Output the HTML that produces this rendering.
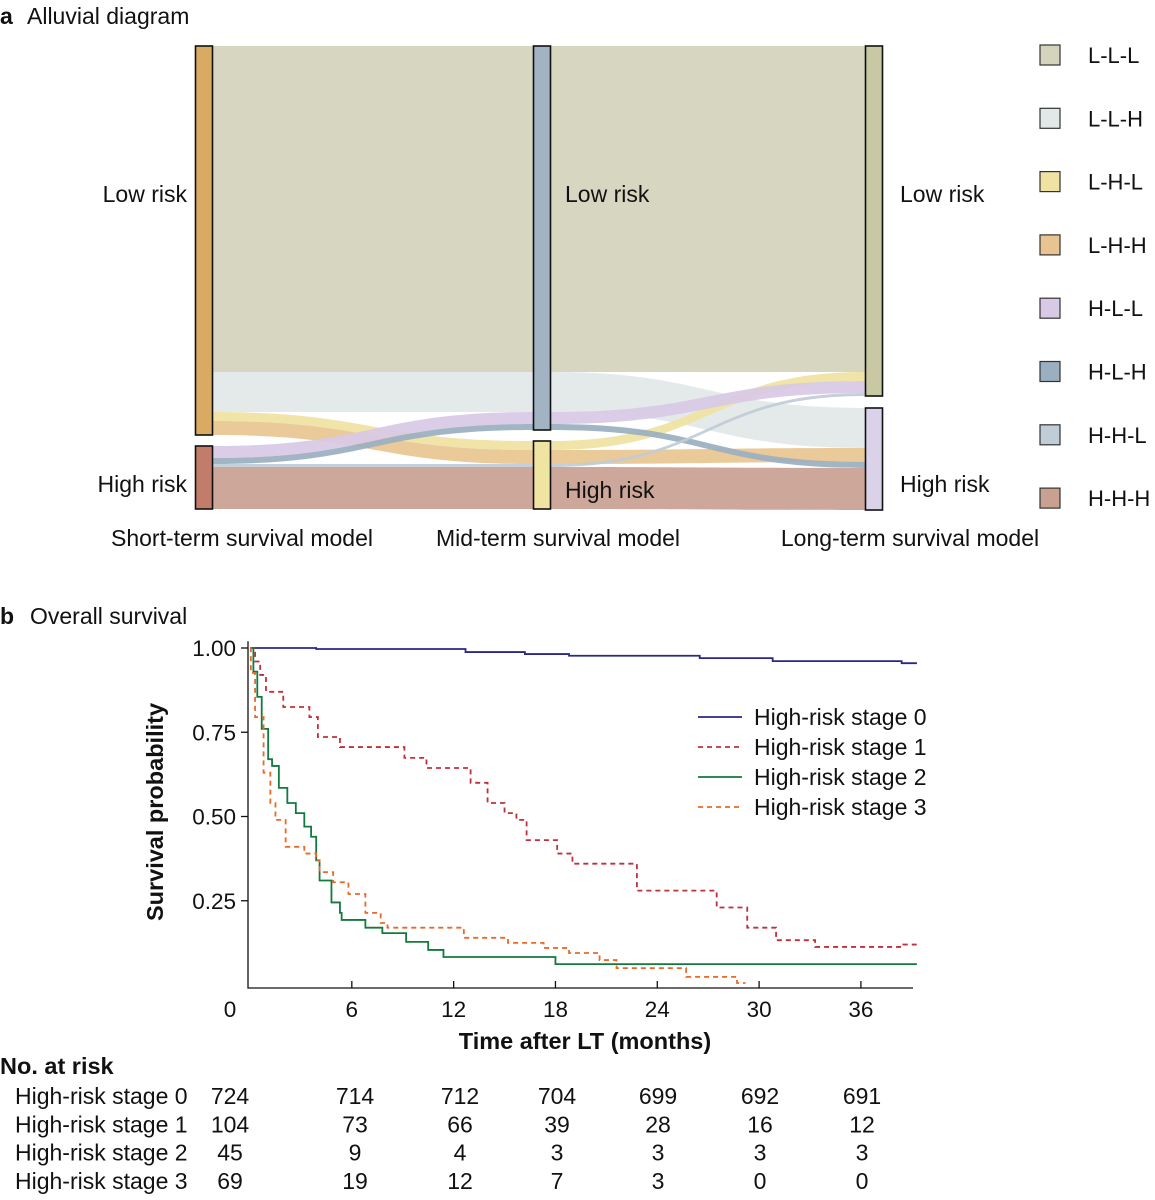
<!DOCTYPE html>
<html><head><meta charset="utf-8">
<style>
body{margin:0;background:#fff;font-family:"Liberation Sans",Arial,sans-serif;}
svg{display:block}
text{font-family:"Liberation Sans",Arial,sans-serif;fill:#111}
</style></head>
<body>
<svg id="fig" width="1155" height="1200" viewBox="0 0 1155 1200" xmlns="http://www.w3.org/2000/svg">
<text x="0" y="24" font-size="23" font-weight="bold">a</text>
<text x="27" y="24" font-size="23">Alluvial diagram</text>
<g id="alluvial"></g>
<g id="legendA"></g>
<text x="0" y="624" font-size="23" font-weight="bold">b</text>
<text x="30" y="624" font-size="23">Overall survival</text>
<g id="km"></g>
<g id="risk"></g>
</svg>
<script>
const NS="http://www.w3.org/2000/svg";
function mk(tag,attrs,parent,txt){const e=document.createElementNS(NS,tag);for(const k in attrs)e.setAttribute(k,attrs[k]);if(txt!==undefined)e.textContent=txt;parent.appendChild(e);return e;}

// ---- Alluvial data ----
const flowNames=["L-L-L","L-L-H","L-H-L","L-H-H","H-L-L","H-L-H","H-H-L","H-H-H"];
const flowSizes=[326,40,9,14,12,6,3,42];
const flowColors=["#d4d4bc","#e2e8e8","#f0e2a2","#e8c590","#d8c9e6","#9aafc0","#c0ccd6","#c9a191"];
const orderCol=[[0,1,2,3],[4,5,6,7]];
const orderMid=[[0,1,4,5],[2,3,6,7]];
const orderRight=[[0,2,4,6],[1,3,5,7]];
const colLabels=["Short-term survival model","Mid-term survival model","Long-term survival model"];
const barColors=[["#d8aa62","#c27d6a"],["#a2b4c4","#f0e4a2"],["#c8c8a2","#dad2e8"]];

(function(){
 const g=document.getElementById('alluvial');
 const top=46, gaps=[11,11,12];
 const xs=[195,533,865], bw=17;
 const orders=[orderCol,orderMid,orderRight];
 const pos=[];
 const bars=[];
 orders.forEach((ord,c)=>{
  let y=top; const p={}; const b=[];
  ord.forEach((grp,gi)=>{
   const y0=y;
   grp.forEach(f=>{p[f]=[y,y+flowSizes[f]];y+=flowSizes[f];});
   b.push([y0,y]); y+=gaps[c];
  });
  pos.push(p);bars.push(b);
 });
 for(let c=0;c<2;c++){
  const x0=xs[c]+bw+1, x1=xs[c+1], mx=(x0+x1)/2;
  flowSizes.forEach((s,f)=>{
   const a=pos[c][f], b=pos[c+1][f];
   const d=`M${x0},${a[0]} C${mx},${a[0]} ${mx},${b[0]} ${x1},${b[0]} L${x1},${b[1]} C${mx},${b[1]} ${mx},${a[1]} ${x0},${a[1]} Z`;
   const el=mk('path',{d:d,fill:flowColors[f],'fill-opacity':0.92},g);
   
   
  });
 }
 bars.forEach((b,c)=>{
  b.forEach((r,i)=>{
   const el=mk('rect',{x:xs[c]+0.5,y:r[0],width:bw,height:r[1]-r[0],fill:barColors[c][i],stroke:'#111','stroke-width':1.6},g);
   
   
  });
 });
 const lx=[[187,187],[565,565],[900,900]];
 const anchors=['end','start','start'];
 bars.forEach((b,c)=>{
  let t=mk('text',{x:lx[c][0],y:202,'font-size':23,'text-anchor':anchors[c]},g,'Low risk');
  
  t=mk('text',{x:lx[c][1],y:(c===1?498:492),'font-size':23,'text-anchor':anchors[c]},g,'High risk');
  
 });
 const cx=[242,558,910];
 colLabels.forEach((s,c)=>{
  const t=mk('text',{x:cx[c],y:546,'font-size':23,'text-anchor':'middle'},g,s);
  
 });
 const lg=document.getElementById('legendA');
 flowNames.forEach((n,i)=>{
  const y=45+i*63.3;
  const r=mk('rect',{x:1040,y:y,width:20,height:20,fill:flowColors[i],stroke:'#333','stroke-width':1.2},lg);
  
  const t=mk('text',{x:1088,y:y+18,'font-size':22},lg,n);
  
 });
})();

// ---- KM data ----
const seriesNames=["High-risk stage 0","High-risk stage 1","High-risk stage 2","High-risk stage 3"];
const s0Times=[3.9,12.7,16.2,18.8,26.5,30.8,38.4];
const s0Surv=[0.997,0.988,0.982,0.977,0.970,0.961,0.955];
const s1Times=[0.3,0.6,0.94,1.96,3.5,4.0,5.3,9.1,10.4,13.0,14.0,15.0,15.7,16.3,18.1,19.0,22.8,27.5,29.3,31.0,33.3,38.5];
const s1Surv=[0.96,0.92,0.87,0.825,0.795,0.736,0.706,0.674,0.644,0.60,0.54,0.51,0.49,0.43,0.39,0.36,0.28,0.23,0.17,0.133,0.113,0.12];
const s2Times=[0.2,0.43,0.69,1.07,1.3,1.7,2.2,2.7,3.2,3.6,3.9,4.1,4.8,5.3,5.4,6.8,7.8,9.2,10.5,11.4,18.0];
const s2Surv=[0.93,0.855,0.76,0.67,0.65,0.585,0.54,0.51,0.47,0.44,0.37,0.31,0.245,0.214,0.193,0.17,0.154,0.128,0.104,0.083,0.062];
const s3Times=[0.05,0.3,0.8,1.2,1.5,2.1,3.2,3.9,4.1,4.9,5.8,6.8,7.7,8.1,12.6,15.2,17.3,18.8,20.6,21.6,25.7,28.7];
const s3Surv=[0.926,0.795,0.63,0.54,0.49,0.41,0.39,0.37,0.335,0.305,0.27,0.214,0.184,0.17,0.14,0.125,0.11,0.095,0.074,0.05,0.024,0.006];
const endTimes=[39.3,39.3,39.3,29.2];
const xTicks=[0,6,12,18,24,30,36];
const yTicks=[0.25,0.5,0.75,1.0];
const yTickLabels=["0.25","0.50","0.75","1.00"];
const riskStage0=[724,714,712,704,699,692,691];
const riskStage1=[104,73,66,39,28,16,12];
const riskStage2=[45,9,4,3,3,3,3];
const riskStage3=[69,19,12,7,3,0,0];

(function(){
 const g=document.getElementById('km');
 const X=t=>250+t*16.97, Y=s=>985-s*337;
 const colors=["#27288a","#c0303a","#137a3e","#e8692a"];
 const dashes=["","5,4","","5,4"];
 let a=mk('path',{d:`M248,${Y(1.02)} L248,988 L913,988`,fill:'none',stroke:'#111','stroke-width':1.3},g);
 
 yTicks.forEach((v,i)=>{
  mk('line',{x1:241,x2:248,y1:Y(v),y2:Y(v),stroke:'#111','stroke-width':1.3},g);
  const t=mk('text',{x:236,y:Y(v)+8,'font-size':22.5,'text-anchor':'end'},g,yTickLabels[i]);
  
 });
 xTicks.forEach((v,i)=>{
  if(v>0) mk('line',{x1:X(v),x2:X(v),y1:981,y2:988,stroke:'#111','stroke-width':1.3},g);
  const t=mk('text',{x:(v===0?230:X(v)),y:1017,'font-size':22.5,'text-anchor':'middle'},g,String(v));
  
 });
 let t=mk('text',{x:585,y:1049,'font-size':23.5,'font-weight':'bold','text-anchor':'middle'},g,'Time after LT (months)');
 
 t=mk('text',{x:0,y:0,'font-size':23.5,'font-weight':'bold','text-anchor':'middle',transform:'translate(163,812) rotate(-90)'},g,'Survival probability');
 
 const T=[s0Times,s1Times,s2Times,s3Times], S=[s0Surv,s1Surv,s2Surv,s3Surv];
 T.forEach((ts,k)=>{
  let d=`M${X(0)},${Y(1)}`; let prev=1;
  ts.forEach((tt,i)=>{d+=` L${X(tt)},${Y(prev)} L${X(tt)},${Y(S[k][i])}`;prev=S[k][i];});
  d+=` L${X(endTimes[k])},${Y(prev)}`;
  const p=mk('path',{d:d,fill:'none',stroke:colors[k],'stroke-width':1.8,'stroke-dasharray':dashes[k]},g);
  
  const ly=717+k*30;
  const l=mk('line',{x1:698,x2:742,y1:ly,y2:ly,stroke:colors[k],'stroke-width':1.8,'stroke-dasharray':dashes[k]},g);
  
  const lt=mk('text',{x:754,y:ly+8,'font-size':23},g,seriesNames[k]);
  
 });
 const r=document.getElementById('risk');
 t=mk('text',{x:0,y:1074,'font-size':23.5,'font-weight':'bold'},r,'No. at risk');
 
 const rows=[riskStage0,riskStage1,riskStage2,riskStage3];
 const colX=[230,355,460,557,658,760,862];
 rows.forEach((row,k)=>{
  const y=1104+k*28.3;
  const lt=mk('text',{x:15,y:y,'font-size':23},r,seriesNames[k]);
  
  row.forEach((v,i)=>{
   const c=mk('text',{x:colX[i],y:y,'font-size':23,'text-anchor':'middle'},r,String(v));
   
  });
 });
})();
</script>
</body></html>
